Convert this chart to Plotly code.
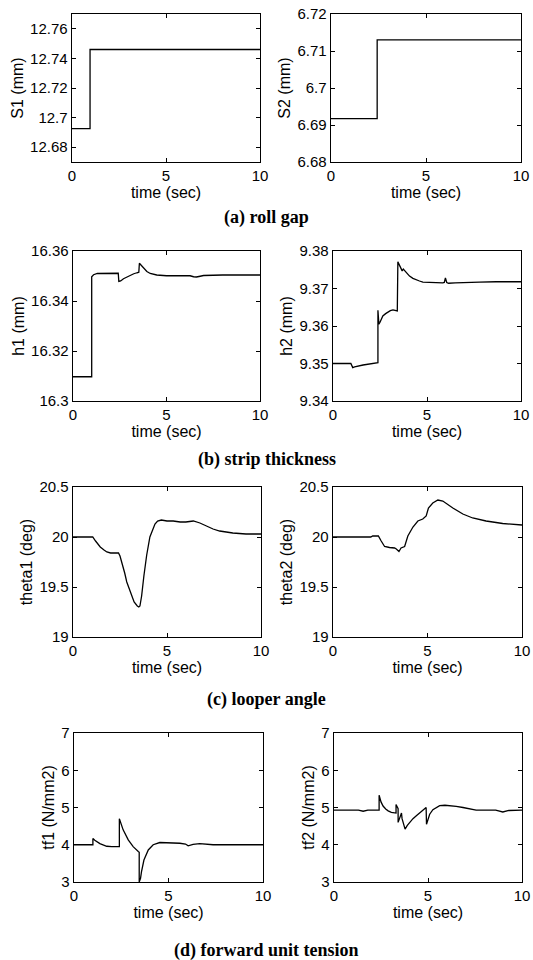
import plotly.graph_objects as go
from plotly.subplots import make_subplots

# ---------------- data ----------------
s1_t = [0, 0.96, 0.96, 10]
s1_v = [12.6925, 12.6925, 12.746, 12.746]

s2_t = [0, 2.43, 2.43, 10]
s2_v = [6.6917, 6.6917, 6.713, 6.713]

h1_t = [0, 1.0, 1.0, 1.1, 1.3, 2.0, 2.42, 2.45, 2.55, 2.7, 2.9, 3.06, 3.25, 3.42, 3.52,
        3.55, 3.65, 3.77, 3.95, 4.13, 4.3, 4.48, 5.0, 5.6, 6.26, 6.45, 6.6, 6.8, 6.98, 8.0, 10]
h1_v = [16.3097, 16.3097, 16.3497, 16.3505, 16.351, 16.3511, 16.3511, 16.3478, 16.348,
        16.3489, 16.3497, 16.3503, 16.3509, 16.3513, 16.3515, 16.3551, 16.3542, 16.353,
        16.3518, 16.351, 16.3506, 16.3504, 16.3501, 16.3501, 16.3501, 16.3497, 16.3496,
        16.3499, 16.3502, 16.3504, 16.3504]

h2_t = [0, 0.95, 1.05, 1.15, 1.6, 2.0, 2.39, 2.39, 2.44, 2.5, 2.65, 2.8, 2.92, 3.05, 3.19,
        3.3, 3.42, 3.45, 3.5, 3.58, 3.68, 3.74, 3.8, 3.9, 4.07, 4.25, 4.42, 4.6, 4.78, 5.13,
        5.5, 5.84, 5.92, 5.98, 6.05, 6.15, 6.5, 6.9, 7.79, 8.67, 10]
h2_v = [9.35, 9.35, 9.3489, 9.3491, 9.3496, 9.3499, 9.3502, 9.3642, 9.3605, 9.3610, 9.3627,
        9.3633, 9.3637, 9.3641, 9.3643, 9.3642, 9.3640, 9.3771, 9.3766, 9.3756, 9.3747,
        9.3752, 9.3749, 9.3742, 9.3733, 9.3727, 9.3723, 9.3720, 9.3717, 9.3716, 9.3716,
        9.3715, 9.3716, 9.3728, 9.3716, 9.3714, 9.3715, 9.3716, 9.3717, 9.3718, 9.3718]

th1_t = [0, 1.05, 1.2, 1.45, 1.65, 1.8, 2.0, 2.42, 2.5, 2.6, 2.75, 2.86, 3.0, 3.12, 3.25,
         3.42, 3.5, 3.56, 3.65, 3.77, 3.92, 4.09, 4.25, 4.36, 4.5, 4.7, 5.0, 5.33, 5.7, 6.0,
         6.4, 6.75, 7.1, 7.45, 7.8, 8.5, 9.2, 10]
th1_v = [20.0, 20.0, 19.96, 19.9, 19.87, 19.85, 19.84, 19.84, 19.81, 19.75, 19.64, 19.55,
         19.47, 19.41, 19.35, 19.31, 19.30, 19.31, 19.41, 19.61, 19.82, 20.0, 20.09, 20.13,
         20.16, 20.17, 20.16, 20.16, 20.15, 20.15, 20.16, 20.14, 20.11, 20.08, 20.06, 20.04,
         20.03, 20.03]

th2_t = [0, 2.0, 2.1, 2.4, 2.55, 2.73, 2.99, 3.26, 3.35, 3.49, 3.6, 3.79, 3.96, 4.23, 4.49,
         4.75, 4.93, 5.05, 5.28, 5.55, 5.81, 6.34, 6.87, 7.39, 8.1, 8.98, 10]
th2_v = [20.0, 20.0, 20.01, 20.01, 19.96, 19.905, 19.895, 19.89, 19.88, 19.855, 19.89, 19.905,
         20.01, 20.1, 20.16, 20.18, 20.21, 20.29, 20.34, 20.37, 20.36, 20.29, 20.23, 20.19,
         20.16, 20.135, 20.12]

tf1_t = [0, 1.0, 1.0, 1.1, 1.37, 1.73, 2.0, 2.4, 2.4, 2.5, 2.6, 2.87, 3.13, 3.4, 3.45, 3.45,
         3.52, 3.57, 3.7, 3.93, 4.19, 4.54, 4.9, 5.6, 5.9, 6.04, 6.3, 6.65, 7.36, 10]
tf1_v = [4.0, 4.0, 4.17, 4.12, 4.03, 3.96, 3.95, 3.95, 4.7, 4.52, 4.4, 4.13, 3.95, 3.82, 3.8,
         3.0, 3.1, 3.27, 3.59, 3.86, 4.0, 4.06, 4.06, 4.04, 4.02, 3.97, 4.01, 4.03, 4.0, 4.0]

tf2_t = [0, 1.3, 1.55, 1.8, 2.4, 2.4, 2.5, 2.61, 2.75, 2.88, 3.05, 3.23, 3.3, 3.3, 3.38, 3.41,
         3.41, 3.5, 3.59, 3.62, 3.78, 3.9, 4.03, 4.2, 4.38, 4.55, 4.73, 4.9, 4.92, 5.0, 5.09,
         5.26, 5.45, 5.62, 5.9, 6.15, 6.5, 6.86, 7.2, 7.56, 8.6, 8.98, 9.3, 10]
tf2_v = [4.93, 4.93, 4.9, 4.93, 4.93, 5.33, 5.15, 5.04, 4.96, 4.91, 4.87, 4.85, 4.85, 5.08,
         5.0, 4.97, 4.6, 4.75, 4.85, 4.7, 4.42, 4.52, 4.6, 4.7, 4.78, 4.85, 4.91, 5.0, 4.55,
         4.7, 4.82, 4.94, 5.0, 5.05, 5.06, 5.05, 5.03, 5.0, 4.96, 4.93, 4.93, 4.88, 4.92, 4.93]

x_ticks = [0, 5, 10]
x_title = "time (sec)"

y_titles = ["S1 (mm)", "S2 (mm)", "h1 (mm)", "h2 (mm)",
            "theta1 (deg)", "theta2 (deg)", "tf1 (N/mm2)", "tf2 (N/mm2)"]
y_tickvals = [[12.68, 12.70, 12.72, 12.74, 12.76],
              [6.68, 6.69, 6.70, 6.71, 6.72],
              [16.30, 16.32, 16.34, 16.36],
              [9.34, 9.35, 9.36, 9.37, 9.38],
              [19, 19.5, 20, 20.5],
              [19, 19.5, 20, 20.5],
              [3, 4, 5, 6, 7],
              [3, 4, 5, 6, 7]]
y_ticktext = [["12.68", "12.7", "12.72", "12.74", "12.76"],
              ["6.68", "6.69", "6.7", "6.71", "6.72"],
              ["16.3", "16.32", "16.34", "16.36"],
              ["9.34", "9.35", "9.36", "9.37", "9.38"],
              ["19", "19.5", "20", "20.5"],
              ["19", "19.5", "20", "20.5"],
              ["3", "4", "5", "6", "7"],
              ["3", "4", "5", "6", "7"]]
y_ranges = [[12.67, 12.77], [6.68, 6.72], [16.30, 16.36], [9.34, 9.38],
            [19, 20.5], [19, 20.5], [3, 7], [3, 7]]
captions = ["(a) roll gap", "(b) strip thickness", "(c) looper angle",
            "(d) forward unit tension"]

series = [(s1_t, s1_v), (s2_t, s2_v), (h1_t, h1_v), (h2_t, h2_v),
          (th1_t, th1_v), (th2_t, th2_v), (tf1_t, tf1_v), (tf2_t, tf2_v)]

# ---------------- layout ----------------
W, H = 533, 960
fig = make_subplots(rows=4, cols=2)

x_px = [(72, 260), (331, 521), (73, 260), (333, 521),
        (73, 261), (333, 522), (74, 263), (334, 522)]
row_px = [(14, 162), (251, 401), (487, 637), (733, 882)]
caption_y = [217, 459, 699, 950]

sans = "Liberation Sans, Arial, sans-serif"

for i, (t, v) in enumerate(series):
    r, c = i // 2 + 1, i % 2 + 1
    fig.add_trace(go.Scatter(x=t, y=v, mode="lines",
                             line=dict(color="black", width=1.3),
                             showlegend=False, hoverinfo="skip"), row=r, col=c)
    top, bot = row_px[r - 1]
    x0, x1 = x_px[i]
    fig.update_xaxes(domain=[x0 / W, x1 / W], range=[0, 10], tickvals=x_ticks,
                     ticks="inside", ticklen=4, tickcolor="black",
                     showline=True, linecolor="black", linewidth=1.4,
                     mirror="allticks", showgrid=False, zeroline=False,
                     ticklabeloverflow="allow", automargin=False,
                     tickfont=dict(family=sans, size=15, color="black"),
                     title=dict(text=x_title, standoff=3,
                                font=dict(family=sans, size=16, color="black")),
                     row=r, col=c)
    fig.update_yaxes(domain=[1 - bot / H, 1 - top / H], range=y_ranges[i],
                     tickvals=y_tickvals[i], ticktext=y_ticktext[i],
                     ticks="inside", ticklen=4, tickcolor="black",
                     showline=True, linecolor="black", linewidth=1.4,
                     mirror="allticks", showgrid=False, zeroline=False,
                     ticklabeloverflow="allow", automargin=False,
                     tickfont=dict(family=sans, size=15, color="black"),
                     title=dict(text=y_titles[i], standoff=2,
                                font=dict(family=sans, size=16, color="black")),
                     row=r, col=c)

for k, cap in enumerate(captions):
    fig.add_annotation(text="<b>" + cap + "</b>", xref="paper", yref="paper",
                       x=0.5, y=1 - caption_y[k] / H, xanchor="center", yanchor="middle",
                       showarrow=False,
                       font=dict(family="Liberation Serif, Times New Roman, serif",
                                 size=18, color="black"))

fig.update_layout(width=W, height=H, margin=dict(l=0, r=0, t=0, b=0),
                  paper_bgcolor="white", plot_bgcolor="white")

# remove the browser's default 8px page margin so the 533x960 figure fills the window
fig.write_html("out.html",
               config={"displayModeBar": False, "staticPlot": True},
               post_script="document.body.style.margin='0px';"
                           "document.body.style.overflow='hidden';")
